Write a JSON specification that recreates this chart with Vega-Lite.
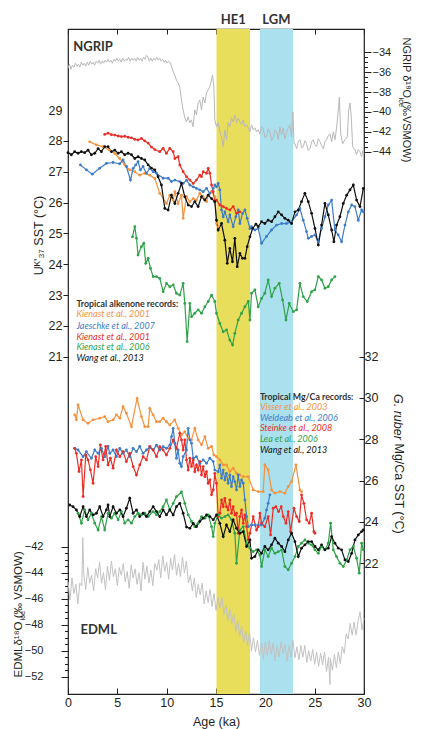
{
  "$schema": "https://vega.github.io/schema/vega-lite/v6.json",
  "width": 296,
  "height": 665,
  "autosize": {"type": "none"},
  "padding": {"left": 68, "top": 29, "right": 58, "bottom": 35},
  "background": "white",
  "config": {
    "view": {"stroke": "#231f20", "strokeWidth": 1.2},
    "axis": {"domain": false, "grid": false, "labelFont": "Liberation Sans", "titleFont": "Liberation Sans", "labelColor": "#231f20", "titleColor": "#231f20", "tickColor": "#231f20", "labelOverlap": false, "labelFlush": false, "titleFontWeight": "normal"}
  },
  "datasets": {
    "ngrip": [
      {"t":0,"v":-35.6},{"t":0.15,"v":-35.2},{"t":0.3,"v":-35.7},{"t":0.45,"v":-35.3},{"t":0.6,"v":-35.5},{"t":0.75,"v":-35.1},{"t":0.9,"v":-35.4},{"t":1.05,"v":-35.2},{"t":1.2,"v":-35.5},{"t":1.35,"v":-35.0},{"t":1.5,"v":-35.3},{"t":1.65,"v":-35.1},{"t":1.8,"v":-35.4},{"t":1.95,"v":-35.0},{"t":2.1,"v":-35.3},{"t":2.25,"v":-34.9},{"t":2.4,"v":-35.2},{"t":2.55,"v":-35.0},{"t":2.7,"v":-35.3},{"t":2.85,"v":-34.9},{"t":3.0,"v":-35.1},{"t":3.15,"v":-34.8},{"t":3.3,"v":-35.2},{"t":3.45,"v":-34.9},{"t":3.6,"v":-35.1},{"t":3.75,"v":-34.8},{"t":3.9,"v":-35.0},{"t":4.05,"v":-34.7},{"t":4.2,"v":-35.0},{"t":4.35,"v":-34.8},{"t":4.5,"v":-35.1},{"t":4.65,"v":-34.7},{"t":4.8,"v":-34.9},{"t":4.95,"v":-34.6},{"t":5.1,"v":-34.9},{"t":5.25,"v":-34.7},{"t":5.4,"v":-35.0},{"t":5.55,"v":-34.6},{"t":5.7,"v":-34.9},{"t":5.85,"v":-34.7},{"t":6.0,"v":-34.8},{"t":6.15,"v":-34.5},{"t":6.3,"v":-34.9},{"t":6.45,"v":-34.6},{"t":6.6,"v":-34.8},{"t":6.75,"v":-34.6},{"t":6.9,"v":-34.9},{"t":7.05,"v":-34.5},{"t":7.2,"v":-34.8},{"t":7.35,"v":-34.6},{"t":7.5,"v":-34.9},{"t":7.65,"v":-34.5},{"t":7.8,"v":-34.7},{"t":7.95,"v":-34.3},{"t":8.1,"v":-34.5},{"t":8.25,"v":-34.9},{"t":8.4,"v":-34.6},{"t":8.55,"v":-34.9},{"t":8.7,"v":-34.6},{"t":8.85,"v":-34.8},{"t":9.0,"v":-34.5},{"t":9.15,"v":-34.8},{"t":9.3,"v":-34.6},{"t":9.45,"v":-34.9},{"t":9.6,"v":-34.7},{"t":9.75,"v":-35.0},{"t":9.9,"v":-34.8},{"t":10.05,"v":-35.1},{"t":10.2,"v":-34.9},{"t":10.32,"v":-35.0},{"t":10.49,"v":-35.4},{"t":10.65,"v":-35.9},{"t":10.82,"v":-36.3},{"t":10.99,"v":-36.8},{"t":11.16,"v":-37.1},{"t":11.33,"v":-37.5},{"t":11.5,"v":-38.8},{"t":11.67,"v":-39.8},{"t":11.84,"v":-40.6},{"t":12.0,"v":-41.0},{"t":12.17,"v":-40.5},{"t":12.34,"v":-41.1},{"t":12.51,"v":-40.8},{"t":12.68,"v":-41.5},{"t":12.85,"v":-39.8},{"t":13.02,"v":-40.3},{"t":13.19,"v":-39.1},{"t":13.36,"v":-38.8},{"t":13.53,"v":-39.8},{"t":13.7,"v":-38.5},{"t":13.87,"v":-39.1},{"t":14.03,"v":-38.1},{"t":14.2,"v":-37.8},{"t":14.37,"v":-37.5},{"t":14.54,"v":-36.8},{"t":14.65,"v":-36.3},{"t":14.78,"v":-37.5},{"t":14.88,"v":-40.8},{"t":15.05,"v":-41.5},{"t":15.22,"v":-41.1},{"t":15.39,"v":-42.0},{"t":15.56,"v":-42.5},{"t":15.73,"v":-43.5},{"t":15.9,"v":-41.8},{"t":16.07,"v":-42.8},{"t":16.23,"v":-41.1},{"t":16.4,"v":-41.5},{"t":16.57,"v":-40.6},{"t":16.74,"v":-41.0},{"t":16.91,"v":-40.3},{"t":17.08,"v":-41.1},{"t":17.25,"v":-40.6},{"t":17.42,"v":-41.0},{"t":17.59,"v":-41.3},{"t":17.76,"v":-40.8},{"t":17.93,"v":-41.5},{"t":18.1,"v":-41.3},{"t":18.27,"v":-41.6},{"t":18.44,"v":-42.0},{"t":18.6,"v":-41.3},{"t":18.77,"v":-41.8},{"t":18.94,"v":-41.6},{"t":19.11,"v":-42.0},{"t":19.28,"v":-41.8},{"t":19.45,"v":-42.2},{"t":19.62,"v":-41.5},{"t":19.79,"v":-41.7},{"t":19.96,"v":-42.6},{"t":20.13,"v":-42.5},{"t":20.3,"v":-41.7},{"t":20.46,"v":-42.0},{"t":20.63,"v":-42.9},{"t":20.8,"v":-42.6},{"t":20.97,"v":-41.8},{"t":21.14,"v":-42.0},{"t":21.31,"v":-42.8},{"t":21.48,"v":-41.5},{"t":21.65,"v":-42.3},{"t":21.81,"v":-41.6},{"t":21.98,"v":-42.7},{"t":22.15,"v":-42.1},{"t":22.32,"v":-41.6},{"t":22.49,"v":-41.3},{"t":22.66,"v":-42.5},{"t":22.8,"v":-40.0},{"t":22.9,"v":-43.2},{"t":23.0,"v":-43.2},{"t":23.17,"v":-43.7},{"t":23.34,"v":-43.0},{"t":23.51,"v":-42.8},{"t":23.68,"v":-43.6},{"t":23.85,"v":-43.5},{"t":24.01,"v":-42.9},{"t":24.18,"v":-43.2},{"t":24.35,"v":-43.9},{"t":24.52,"v":-43.7},{"t":24.69,"v":-43.0},{"t":24.86,"v":-42.8},{"t":25.03,"v":-43.3},{"t":25.2,"v":-43.5},{"t":25.37,"v":-42.7},{"t":25.54,"v":-43.0},{"t":25.71,"v":-43.4},{"t":25.88,"v":-43.7},{"t":26.05,"v":-43.0},{"t":26.21,"v":-42.8},{"t":26.38,"v":-42.4},{"t":26.55,"v":-42.2},{"t":26.72,"v":-43.0},{"t":26.89,"v":-42.0},{"t":27.06,"v":-42.8},{"t":27.23,"v":-41.5},{"t":27.4,"v":-39.8},{"t":27.5,"v":-38.5},{"t":27.64,"v":-42.2},{"t":27.84,"v":-43.2},{"t":28.07,"v":-42.8},{"t":28.31,"v":-42.5},{"t":28.45,"v":-39.8},{"t":28.58,"v":-39.1},{"t":28.71,"v":-40.5},{"t":28.85,"v":-43.5},{"t":29.09,"v":-43.8},{"t":29.25,"v":-44.3},{"t":29.42,"v":-43.8},{"t":29.59,"v":-44.0},{"t":29.76,"v":-44.5},{"t":29.88,"v":-43.9},{"t":30.0,"v":-44.2}
    ],
    "edml": [
      {"t":0,"v":-44.7},{"t":0.2,"v":-46.1},{"t":0.4,"v":-44.4},{"t":0.6,"v":-45.6},{"t":0.8,"v":-44.9},{"t":1.0,"v":-46.4},{"t":1.2,"v":-44.8},{"t":1.4,"v":-45.0},{"t":1.5,"v":-41.3},{"t":1.6,"v":-44.1},{"t":1.8,"v":-45.3},{"t":2.0,"v":-43.6},{"t":2.2,"v":-44.8},{"t":2.4,"v":-44.2},{"t":2.6,"v":-45.4},{"t":2.8,"v":-43.7},{"t":3.0,"v":-44.4},{"t":3.2,"v":-43.2},{"t":3.4,"v":-44.8},{"t":3.6,"v":-44.0},{"t":3.8,"v":-45.3},{"t":4.0,"v":-43.5},{"t":4.2,"v":-44.6},{"t":4.4,"v":-43.1},{"t":4.6,"v":-44.3},{"t":4.8,"v":-43.7},{"t":5.0,"v":-45.0},{"t":5.2,"v":-43.6},{"t":5.4,"v":-44.2},{"t":5.6,"v":-43.3},{"t":5.8,"v":-44.7},{"t":6.0,"v":-43.9},{"t":6.2,"v":-45.2},{"t":6.4,"v":-43.4},{"t":6.6,"v":-44.4},{"t":6.8,"v":-43.7},{"t":7.0,"v":-44.9},{"t":7.2,"v":-44.0},{"t":7.4,"v":-45.4},{"t":7.6,"v":-43.2},{"t":7.8,"v":-44.5},{"t":8.0,"v":-43.5},{"t":8.2,"v":-44.8},{"t":8.4,"v":-43.8},{"t":8.6,"v":-45.0},{"t":8.8,"v":-43.3},{"t":9.0,"v":-43.8},{"t":9.2,"v":-43.0},{"t":9.4,"v":-44.4},{"t":9.6,"v":-42.7},{"t":9.8,"v":-43.9},{"t":10.0,"v":-43.2},{"t":10.2,"v":-44.5},{"t":10.4,"v":-42.9},{"t":10.6,"v":-43.8},{"t":10.8,"v":-42.6},{"t":11.0,"v":-44.2},{"t":11.2,"v":-43.3},{"t":11.4,"v":-44.3},{"t":11.6,"v":-42.8},{"t":11.8,"v":-44.0},{"t":12.0,"v":-43.1},{"t":12.2,"v":-44.8},{"t":12.4,"v":-44.2},{"t":12.6,"v":-45.4},{"t":12.8,"v":-44.4},{"t":13.0,"v":-45.9},{"t":13.2,"v":-44.9},{"t":13.4,"v":-45.7},{"t":13.6,"v":-44.8},{"t":13.8,"v":-46.4},{"t":14.0,"v":-45.4},{"t":14.2,"v":-46.3},{"t":14.4,"v":-45.3},{"t":14.6,"v":-46.6},{"t":14.8,"v":-45.6},{"t":15.0,"v":-46.9},{"t":15.2,"v":-45.9},{"t":15.4,"v":-46.7},{"t":15.6,"v":-45.9},{"t":15.8,"v":-47.2},{"t":16.0,"v":-46.5},{"t":16.2,"v":-47.7},{"t":16.4,"v":-46.8},{"t":16.6,"v":-47.9},{"t":16.8,"v":-47.2},{"t":17.0,"v":-48.5},{"t":17.2,"v":-47.7},{"t":17.4,"v":-48.9},{"t":17.6,"v":-48.1},{"t":17.8,"v":-49.4},{"t":18.0,"v":-48.5},{"t":18.2,"v":-49.6},{"t":18.4,"v":-48.6},{"t":18.6,"v":-50.0},{"t":18.8,"v":-49.0},{"t":19.0,"v":-50.1},{"t":19.2,"v":-49.2},{"t":19.4,"v":-50.35},{"t":19.6,"v":-49.4},{"t":19.8,"v":-50.65},{"t":20.0,"v":-49.3},{"t":20.2,"v":-50.4},{"t":20.4,"v":-49.2},{"t":20.6,"v":-50.3},{"t":20.8,"v":-49.4},{"t":21.0,"v":-50.8},{"t":21.2,"v":-49.6},{"t":21.4,"v":-50.5},{"t":21.6,"v":-49.3},{"t":21.8,"v":-50.2},{"t":22.0,"v":-49.5},{"t":22.2,"v":-50.8},{"t":22.4,"v":-49.6},{"t":22.6,"v":-50.5},{"t":22.8,"v":-49.2},{"t":23.0,"v":-50.55},{"t":23.2,"v":-49.7},{"t":23.4,"v":-50.7},{"t":23.6,"v":-49.6},{"t":23.8,"v":-50.5},{"t":24.0,"v":-49.6},{"t":24.2,"v":-50.9},{"t":24.4,"v":-50.0},{"t":24.6,"v":-50.8},{"t":24.8,"v":-49.9},{"t":25.0,"v":-51.05},{"t":25.2,"v":-50.1},{"t":25.4,"v":-51.2},{"t":25.6,"v":-50.2},{"t":25.8,"v":-51.1},{"t":26.0,"v":-50.1},{"t":26.2,"v":-51.6},{"t":26.4,"v":-50.5},{"t":26.55,"v":-52.6},{"t":26.6,"v":-50.6},{"t":26.8,"v":-51.5},{"t":27.0,"v":-50.3},{"t":27.2,"v":-51.3},{"t":27.4,"v":-50.1},{"t":27.6,"v":-51.0},{"t":27.8,"v":-49.7},{"t":28.0,"v":-50.2},{"t":28.2,"v":-48.7},{"t":28.4,"v":-49.1},{"t":28.6,"v":-47.9},{"t":28.8,"v":-48.8},{"t":29.0,"v":-47.8},{"t":29.2,"v":-48.8},{"t":29.4,"v":-47.7},{"t":29.6,"v":-47.0},{"t":29.8,"v":-48.4},{"t":30.0,"v":-47.5}
    ],
    "alk": [
      {"s":"aK1","t":2.2,"v":27.97},{"s":"aK1","t":2.88,"v":27.87},{"s":"aK1","t":3.55,"v":27.81},{"s":"aK1","t":4.23,"v":27.7},{"s":"aK1","t":4.74,"v":27.59},{"s":"aK1","t":5.24,"v":27.43},{"s":"aK1","t":5.75,"v":27.22},{"s":"aK1","t":6.26,"v":27.06},{"s":"aK1","t":6.77,"v":27.0},{"s":"aK1","t":7.27,"v":26.89},{"s":"aK1","t":7.78,"v":26.95},{"s":"aK1","t":8.29,"v":26.89},{"s":"aK1","t":8.8,"v":26.78},{"s":"aK1","t":9.3,"v":26.3},{"s":"aK1","t":9.98,"v":25.97},{"s":"aK1","t":10.32,"v":26.24},{"s":"aK1","t":10.66,"v":26.08},{"s":"aK1","t":10.83,"v":26.35},{"s":"aK1","t":11.16,"v":25.97},{"s":"aK1","t":11.5,"v":26.24},{"s":"aK1","t":11.67,"v":25.49},{"s":"aK1","t":12.01,"v":26.19},{"s":"aK1","t":12.35,"v":26.03},{"s":"aK1","t":12.69,"v":26.13},{"s":"aK1","t":13.02,"v":26.08},{"s":"aK1","t":13.36,"v":26.3},{"s":"aK1","t":13.7,"v":26.19},{"s":"aK1","t":14.04,"v":26.03},{"s":"aK1","t":14.21,"v":26.24},{"s":"aK1","t":14.55,"v":26.35},{"s":"aK1","t":14.88,"v":26.19},{"s":"aK1","t":15.05,"v":25.32},{"s":"aK1","t":15.22,"v":25.22},
      {"s":"aJ","t":1.26,"v":27.22},{"s":"aJ","t":1.87,"v":27.06},{"s":"aJ","t":2.47,"v":26.92},{"s":"aJ","t":3.2,"v":27.11},{"s":"aJ","t":3.89,"v":27.27},{"s":"aJ","t":4.57,"v":27.3},{"s":"aJ","t":5.24,"v":27.26},{"s":"aJ","t":5.58,"v":27.38},{"s":"aJ","t":5.92,"v":27.17},{"s":"aJ","t":6.33,"v":26.73},{"s":"aJ","t":6.6,"v":27.11},{"s":"aJ","t":6.87,"v":27.22},{"s":"aJ","t":7.1,"v":27.33},{"s":"aJ","t":7.34,"v":27.06},{"s":"aJ","t":7.61,"v":27.17},{"s":"aJ","t":7.95,"v":26.95},{"s":"aJ","t":8.29,"v":27.11},{"s":"aJ","t":8.63,"v":27.0},{"s":"aJ","t":8.97,"v":26.95},{"s":"aJ","t":9.64,"v":26.79},{"s":"aJ","t":10.15,"v":26.79},{"s":"aJ","t":10.49,"v":26.68},{"s":"aJ","t":10.83,"v":26.73},{"s":"aJ","t":11.33,"v":26.68},{"s":"aJ","t":11.67,"v":26.62},{"s":"aJ","t":12.01,"v":26.73},{"s":"aJ","t":12.35,"v":26.57},{"s":"aJ","t":12.69,"v":26.51},{"s":"aJ","t":13.02,"v":26.46},{"s":"aJ","t":13.36,"v":26.41},{"s":"aJ","t":13.7,"v":26.35},{"s":"aJ","t":14.04,"v":26.46},{"s":"aJ","t":14.38,"v":26.3},{"s":"aJ","t":14.72,"v":26.46},{"s":"aJ","t":14.88,"v":26.57},{"s":"aJ","t":15.05,"v":26.51},{"s":"aJ","t":15.22,"v":26.62},{"s":"aJ","t":15.39,"v":26.41},{"s":"aJ","t":15.56,"v":25.76},{"s":"aJ","t":15.73,"v":25.54},{"s":"aJ","t":15.9,"v":25.7},{"s":"aJ","t":16.23,"v":25.38},{"s":"aJ","t":16.4,"v":25.6},{"s":"aJ","t":16.74,"v":25.22},{"s":"aJ","t":17.01,"v":25.54},{"s":"aJ","t":17.25,"v":25.76},{"s":"aJ","t":17.42,"v":25.32},{"s":"aJ","t":17.69,"v":25.65},{"s":"aJ","t":17.93,"v":25.76},{"s":"aJ","t":18.16,"v":25.49},{"s":"aJ","t":18.44,"v":25.16},{"s":"aJ","t":18.6,"v":25.22},{"s":"aJ","t":18.94,"v":25.11},{"s":"aJ","t":19.28,"v":25.16},{"s":"aJ","t":19.62,"v":24.68},{"s":"aJ","t":20.12,"v":24.9},{"s":"aJ","t":20.63,"v":25.11},{"s":"aJ","t":21.14,"v":25.27},{"s":"aJ","t":21.65,"v":25.32},{"s":"aJ","t":22.15,"v":25.32},{"s":"aJ","t":22.66,"v":25.38},{"s":"aJ","t":23.17,"v":25.6},{"s":"aJ","t":23.5,"v":25.81},{"s":"aJ","t":23.84,"v":25.43},{"s":"aJ","t":24.18,"v":25.06},{"s":"aJ","t":24.35,"v":24.84},{"s":"aJ","t":24.69,"v":24.9},{"s":"aJ","t":25.03,"v":24.95},{"s":"aJ","t":25.37,"v":24.73},{"s":"aJ","t":25.7,"v":25.16},{"s":"aJ","t":26.04,"v":25.54},{"s":"aJ","t":26.38,"v":25.92},{"s":"aJ","t":26.72,"v":26.08},{"s":"aJ","t":27.05,"v":25.11},{"s":"aJ","t":27.39,"v":24.95},{"s":"aJ","t":27.73,"v":24.73},{"s":"aJ","t":28.07,"v":25.27},{"s":"aJ","t":28.41,"v":25.7},{"s":"aJ","t":28.75,"v":25.92},{"s":"aJ","t":29.08,"v":25.87},{"s":"aJ","t":29.42,"v":25.43},{"s":"aJ","t":29.76,"v":25.76},{"s":"aJ","t":29.93,"v":25.7},
      {"s":"aK2","t":3.72,"v":28.21},{"s":"aK2","t":4.06,"v":28.25},{"s":"aK2","t":4.4,"v":28.2},{"s":"aK2","t":4.74,"v":28.19},{"s":"aK2","t":5.08,"v":28.16},{"s":"aK2","t":5.41,"v":28.14},{"s":"aK2","t":5.75,"v":28.15},{"s":"aK2","t":6.09,"v":28.12},{"s":"aK2","t":6.43,"v":28.1},{"s":"aK2","t":6.77,"v":28.05},{"s":"aK2","t":7.1,"v":28.03},{"s":"aK2","t":7.44,"v":28.08},{"s":"aK2","t":7.78,"v":28.0},{"s":"aK2","t":8.12,"v":27.93},{"s":"aK2","t":8.46,"v":27.8},{"s":"aK2","t":8.8,"v":27.72},{"s":"aK2","t":9.3,"v":27.65},{"s":"aK2","t":9.64,"v":27.76},{"s":"aK2","t":9.98,"v":27.6},{"s":"aK2","t":10.32,"v":27.76},{"s":"aK2","t":10.66,"v":27.65},{"s":"aK2","t":10.83,"v":27.43},{"s":"aK2","t":11.16,"v":27.49},{"s":"aK2","t":11.33,"v":27.22},{"s":"aK2","t":11.67,"v":27.0},{"s":"aK2","t":12.01,"v":26.84},{"s":"aK2","t":12.35,"v":26.73},{"s":"aK2","t":12.69,"v":26.62},{"s":"aK2","t":13.02,"v":26.73},{"s":"aK2","t":13.36,"v":26.89},{"s":"aK2","t":13.53,"v":26.84},{"s":"aK2","t":13.7,"v":27.0},{"s":"aK2","t":14.04,"v":26.95},{"s":"aK2","t":14.21,"v":27.11},{"s":"aK2","t":14.38,"v":26.95},{"s":"aK2","t":14.55,"v":26.57},{"s":"aK2","t":14.72,"v":26.35},{"s":"aK2","t":14.88,"v":26.03},{"s":"aK2","t":15.05,"v":26.08},{"s":"aK2","t":15.39,"v":25.92},{"s":"aK2","t":15.73,"v":25.87},{"s":"aK2","t":16.06,"v":25.81},{"s":"aK2","t":16.4,"v":25.76},{"s":"aK2","t":16.74,"v":25.87},{"s":"aK2","t":17.08,"v":25.65},{"s":"aK2","t":17.42,"v":25.7},
      {"s":"aK3","t":6.53,"v":24.89},{"s":"aK3","t":6.77,"v":25.22},{"s":"aK3","t":6.94,"v":24.84},{"s":"aK3","t":7.1,"v":24.3},{"s":"aK3","t":7.44,"v":24.57},{"s":"aK3","t":7.68,"v":24.68},{"s":"aK3","t":7.88,"v":24.03},{"s":"aK3","t":8.12,"v":24.19},{"s":"aK3","t":8.36,"v":23.87},{"s":"aK3","t":8.63,"v":23.6},{"s":"aK3","t":8.97,"v":23.6},{"s":"aK3","t":9.3,"v":23.54},{"s":"aK3","t":9.64,"v":23.11},{"s":"aK3","t":9.98,"v":23.38},{"s":"aK3","t":10.32,"v":23.27},{"s":"aK3","t":10.66,"v":23.33},{"s":"aK3","t":10.99,"v":23.06},{"s":"aK3","t":11.33,"v":23.0},{"s":"aK3","t":11.67,"v":23.38},{"s":"aK3","t":11.84,"v":22.73},{"s":"aK3","t":12.08,"v":21.49},{"s":"aK3","t":12.35,"v":22.73},{"s":"aK3","t":12.52,"v":22.3},{"s":"aK3","t":12.85,"v":22.41},{"s":"aK3","t":13.19,"v":22.52},{"s":"aK3","t":13.53,"v":22.41},{"s":"aK3","t":13.87,"v":22.62},{"s":"aK3","t":14.21,"v":22.79},{"s":"aK3","t":14.55,"v":23.0},{"s":"aK3","t":14.88,"v":22.79},{"s":"aK3","t":15.05,"v":22.41},{"s":"aK3","t":15.39,"v":22.08},{"s":"aK3","t":15.73,"v":21.81},{"s":"aK3","t":16.07,"v":21.87},{"s":"aK3","t":16.4,"v":21.54},{"s":"aK3","t":16.68,"v":21.38},{"s":"aK3","t":16.91,"v":21.76},{"s":"aK3","t":17.25,"v":22.19},{"s":"aK3","t":17.59,"v":22.41},{"s":"aK3","t":17.93,"v":22.62},{"s":"aK3","t":18.27,"v":22.79},{"s":"aK3","t":18.44,"v":22.19},{"s":"aK3","t":18.6,"v":23.06},{"s":"aK3","t":18.94,"v":23.17},{"s":"aK3","t":19.28,"v":22.62},{"s":"aK3","t":19.62,"v":22.89},{"s":"aK3","t":19.95,"v":23.06},{"s":"aK3","t":20.29,"v":23.49},{"s":"aK3","t":20.63,"v":22.95},{"s":"aK3","t":20.97,"v":23.22},{"s":"aK3","t":21.41,"v":23.38},{"s":"aK3","t":21.75,"v":22.84},{"s":"aK3","t":22.09,"v":22.19},{"s":"aK3","t":22.42,"v":22.73},{"s":"aK3","t":22.83,"v":22.46},{"s":"aK3","t":23.17,"v":22.52},{"s":"aK3","t":23.5,"v":23.38},{"s":"aK3","t":23.84,"v":22.95},{"s":"aK3","t":24.25,"v":22.79},{"s":"aK3","t":24.69,"v":23.11},{"s":"aK3","t":25.03,"v":23.17},{"s":"aK3","t":25.37,"v":23.6},{"s":"aK3","t":25.7,"v":23.49},{"s":"aK3","t":26.04,"v":23.22},{"s":"aK3","t":26.38,"v":23.27},{"s":"aK3","t":26.72,"v":23.49},{"s":"aK3","t":27.05,"v":23.6},
      {"s":"aW","t":0,"v":27.62},{"s":"aW","t":0.34,"v":27.55},{"s":"aW","t":0.68,"v":27.65},{"s":"aW","t":1.02,"v":27.6},{"s":"aW","t":1.35,"v":27.65},{"s":"aW","t":1.69,"v":27.62},{"s":"aW","t":2.03,"v":27.7},{"s":"aW","t":2.37,"v":27.55},{"s":"aW","t":2.71,"v":27.6},{"s":"aW","t":3.05,"v":27.75},{"s":"aW","t":3.38,"v":27.65},{"s":"aW","t":3.72,"v":27.81},{"s":"aW","t":4.06,"v":27.81},{"s":"aW","t":4.4,"v":27.65},{"s":"aW","t":4.74,"v":27.7},{"s":"aW","t":5.08,"v":27.6},{"s":"aW","t":5.41,"v":27.65},{"s":"aW","t":5.75,"v":27.55},{"s":"aW","t":6.09,"v":27.6},{"s":"aW","t":6.43,"v":27.55},{"s":"aW","t":6.77,"v":27.43},{"s":"aW","t":7.1,"v":27.49},{"s":"aW","t":7.44,"v":27.43},{"s":"aW","t":7.78,"v":27.38},{"s":"aW","t":8.12,"v":27.22},{"s":"aW","t":8.45,"v":27.12},{"s":"aW","t":8.8,"v":27.06},{"s":"aW","t":9.13,"v":26.84},{"s":"aW","t":9.47,"v":26.57},{"s":"aW","t":9.81,"v":25.81},{"s":"aW","t":10.15,"v":25.76},{"s":"aW","t":10.49,"v":26.24},{"s":"aW","t":10.83,"v":25.97},{"s":"aW","t":11.16,"v":26.3},{"s":"aW","t":11.5,"v":26.62},{"s":"aW","t":11.84,"v":26.19},{"s":"aW","t":12.18,"v":25.92},{"s":"aW","t":12.52,"v":25.87},{"s":"aW","t":12.85,"v":26.03},{"s":"aW","t":13.19,"v":25.87},{"s":"aW","t":13.53,"v":26.19},{"s":"aW","t":13.87,"v":26.08},{"s":"aW","t":14.21,"v":26.24},{"s":"aW","t":14.55,"v":26.13},{"s":"aW","t":14.88,"v":26.03},{"s":"aW","t":15.05,"v":25.43},{"s":"aW","t":15.22,"v":25.11},{"s":"aW","t":15.56,"v":25.32},{"s":"aW","t":15.9,"v":24.78},{"s":"aW","t":16.14,"v":24.03},{"s":"aW","t":16.4,"v":24.51},{"s":"aW","t":16.67,"v":24.08},{"s":"aW","t":16.91,"v":24.84},{"s":"aW","t":17.15,"v":23.92},{"s":"aW","t":17.42,"v":24.35},{"s":"aW","t":17.69,"v":24.19},{"s":"aW","t":17.93,"v":24.19},{"s":"aW","t":18.16,"v":24.57},{"s":"aW","t":18.44,"v":24.89},{"s":"aW","t":18.71,"v":25.16},{"s":"aW","t":19.05,"v":25.3},{"s":"aW","t":19.28,"v":25.22},{"s":"aW","t":19.62,"v":25.38},{"s":"aW","t":19.95,"v":25.32},{"s":"aW","t":20.29,"v":25.43},{"s":"aW","t":20.63,"v":25.38},{"s":"aW","t":20.97,"v":25.54},{"s":"aW","t":21.31,"v":25.7},{"s":"aW","t":21.65,"v":25.6},{"s":"aW","t":21.98,"v":25.49},{"s":"aW","t":22.32,"v":25.43},{"s":"aW","t":22.66,"v":25.32},{"s":"aW","t":23.0,"v":25.7},{"s":"aW","t":23.34,"v":25.76},{"s":"aW","t":23.67,"v":26.03},{"s":"aW","t":24.01,"v":26.3},{"s":"aW","t":24.35,"v":26.03},{"s":"aW","t":24.69,"v":25.65},{"s":"aW","t":25.03,"v":25.16},{"s":"aW","t":25.37,"v":24.62},{"s":"aW","t":25.7,"v":25.27},{"s":"aW","t":26.04,"v":25.97},{"s":"aW","t":26.38,"v":25.6},{"s":"aW","t":26.72,"v":25.11},{"s":"aW","t":26.95,"v":24.73},{"s":"aW","t":27.22,"v":25.27},{"s":"aW","t":27.56,"v":25.54},{"s":"aW","t":27.9,"v":25.97},{"s":"aW","t":28.24,"v":26.24},{"s":"aW","t":28.58,"v":26.41},{"s":"aW","t":28.92,"v":26.57},{"s":"aW","t":29.25,"v":26.08},{"s":"aW","t":29.59,"v":25.87},{"s":"aW","t":29.93,"v":26.46}
    ],
    "mg": [
      {"s":"mV","t":0.68,"v":29.18},{"s":"mV","t":0.85,"v":28.94},{"s":"mV","t":1.02,"v":29.66},{"s":"mV","t":1.53,"v":28.94},{"s":"mV","t":2.03,"v":28.77},{"s":"mV","t":2.54,"v":28.94},{"s":"mV","t":3.22,"v":29.02},{"s":"mV","t":3.72,"v":29.1},{"s":"mV","t":4.06,"v":28.85},{"s":"mV","t":4.57,"v":28.94},{"s":"mV","t":4.91,"v":29.18},{"s":"mV","t":5.25,"v":29.02},{"s":"mV","t":5.58,"v":29.58},{"s":"mV","t":5.92,"v":29.26},{"s":"mV","t":6.43,"v":28.61},{"s":"mV","t":7.0,"v":29.98},{"s":"mV","t":7.44,"v":29.1},{"s":"mV","t":7.78,"v":28.61},{"s":"mV","t":8.12,"v":28.61},{"s":"mV","t":8.29,"v":29.5},{"s":"mV","t":8.63,"v":29.18},{"s":"mV","t":8.97,"v":28.85},{"s":"mV","t":9.3,"v":28.85},{"s":"mV","t":9.64,"v":29.02},{"s":"mV","t":9.98,"v":28.85},{"s":"mV","t":10.32,"v":28.69},{"s":"mV","t":10.82,"v":28.94},{"s":"mV","t":11.16,"v":28.53},{"s":"mV","t":11.5,"v":28.21},{"s":"mV","t":11.84,"v":28.37},{"s":"mV","t":12.18,"v":28.05},{"s":"mV","t":12.51,"v":27.97},{"s":"mV","t":12.85,"v":28.53},{"s":"mV","t":13.19,"v":27.97},{"s":"mV","t":13.53,"v":27.73},{"s":"mV","t":13.87,"v":28.13},{"s":"mV","t":14.21,"v":27.56},{"s":"mV","t":14.55,"v":27.65},{"s":"mV","t":14.78,"v":27.24},{"s":"mV","t":15.05,"v":27.16},{"s":"mV","t":15.39,"v":27.0},{"s":"mV","t":15.73,"v":26.76},{"s":"mV","t":16.07,"v":26.76},{"s":"mV","t":16.4,"v":26.44},{"s":"mV","t":16.74,"v":26.6},{"s":"mV","t":17.08,"v":26.36},{"s":"mV","t":17.42,"v":26.27},{"s":"mV","t":17.76,"v":26.19},{"s":"mV","t":18.27,"v":26.19},{"s":"mV","t":18.77,"v":25.55},{"s":"mV","t":19.28,"v":25.47},{"s":"mV","t":19.78,"v":25.47},{"s":"mV","t":19.95,"v":26.76},{"s":"mV","t":20.29,"v":26.52},{"s":"mV","t":20.63,"v":25.55},{"s":"mV","t":20.97,"v":25.39},{"s":"mV","t":21.48,"v":25.47},{"s":"mV","t":21.98,"v":25.39},{"s":"mV","t":22.32,"v":25.71},{"s":"mV","t":22.66,"v":25.95},{"s":"mV","t":23.1,"v":26.76},{"s":"mV","t":23.5,"v":25.55},{"s":"mV","t":23.67,"v":25.47},
      {"s":"mWe","t":0.68,"v":27.56},{"s":"mWe","t":1.02,"v":27.48},{"s":"mWe","t":1.53,"v":27.16},{"s":"mWe","t":1.86,"v":27.4},{"s":"mWe","t":2.37,"v":27.08},{"s":"mWe","t":2.71,"v":27.48},{"s":"mWe","t":3.05,"v":27.32},{"s":"mWe","t":3.39,"v":27.56},{"s":"mWe","t":3.72,"v":27.16},{"s":"mWe","t":4.06,"v":27.65},{"s":"mWe","t":4.23,"v":27.32},{"s":"mWe","t":4.57,"v":27.48},{"s":"mWe","t":4.91,"v":27.16},{"s":"mWe","t":5.25,"v":27.56},{"s":"mWe","t":5.58,"v":27.32},{"s":"mWe","t":5.92,"v":27.48},{"s":"mWe","t":6.26,"v":27.16},{"s":"mWe","t":6.6,"v":27.56},{"s":"mWe","t":6.94,"v":27.4},{"s":"mWe","t":7.27,"v":27.65},{"s":"mWe","t":7.61,"v":27.32},{"s":"mWe","t":7.95,"v":27.48},{"s":"mWe","t":8.29,"v":27.6},{"s":"mWe","t":8.63,"v":27.48},{"s":"mWe","t":8.97,"v":27.72},{"s":"mWe","t":9.3,"v":27.48},{"s":"mWe","t":9.64,"v":27.64},{"s":"mWe","t":9.98,"v":27.56},{"s":"mWe","t":10.32,"v":27.72},{"s":"mWe","t":10.49,"v":28.13},{"s":"mWe","t":10.66,"v":28.53},{"s":"mWe","t":10.83,"v":27.81},{"s":"mWe","t":10.99,"v":27.08},{"s":"mWe","t":11.16,"v":27.48},{"s":"mWe","t":11.33,"v":26.84},{"s":"mWe","t":11.5,"v":26.68},{"s":"mWe","t":11.67,"v":27.16},{"s":"mWe","t":12.01,"v":27.48},{"s":"mWe","t":12.18,"v":28.53},{"s":"mWe","t":12.35,"v":27.97},{"s":"mWe","t":12.52,"v":27.81},{"s":"mWe","t":12.69,"v":27.08},{"s":"mWe","t":13.02,"v":27.16},{"s":"mWe","t":13.36,"v":26.84},{"s":"mWe","t":13.7,"v":27.0},{"s":"mWe","t":14.04,"v":26.84},{"s":"mWe","t":14.38,"v":27.08},{"s":"mWe","t":14.72,"v":26.92},{"s":"mWe","t":14.88,"v":26.51},{"s":"mWe","t":15.22,"v":26.43},{"s":"mWe","t":15.39,"v":26.76},{"s":"mWe","t":15.56,"v":26.11},{"s":"mWe","t":15.73,"v":26.51},{"s":"mWe","t":15.9,"v":26.03},{"s":"mWe","t":16.06,"v":26.35},{"s":"mWe","t":16.23,"v":25.87},{"s":"mWe","t":16.4,"v":26.27},{"s":"mWe","t":16.57,"v":25.71},{"s":"mWe","t":16.74,"v":26.19},{"s":"mWe","t":16.91,"v":25.95},{"s":"mWe","t":17.08,"v":25.55},{"s":"mWe","t":17.25,"v":26.27},{"s":"mWe","t":17.42,"v":25.71},{"s":"mWe","t":17.59,"v":26.03},{"s":"mWe","t":17.76,"v":25.87},{"s":"mWe","t":17.93,"v":25.06},{"s":"mWe","t":18.1,"v":24.26},{"s":"mWe","t":18.27,"v":23.77},{"s":"mWe","t":18.6,"v":23.85},{"s":"mWe","t":18.94,"v":23.85},{"s":"mWe","t":19.28,"v":23.85},{"s":"mWe","t":19.61,"v":23.85},{"s":"mWe","t":19.95,"v":24.18},{"s":"mWe","t":20.12,"v":24.58},{"s":"mWe","t":20.29,"v":24.9},{"s":"mWe","t":20.46,"v":25.31},
      {"s":"mS","t":0.68,"v":27.56},{"s":"mS","t":0.85,"v":27.32},{"s":"mS","t":1.12,"v":26.44},{"s":"mS","t":1.36,"v":27.0},{"s":"mS","t":1.53,"v":25.23},{"s":"mS","t":1.8,"v":27.24},{"s":"mS","t":2.03,"v":27.0},{"s":"mS","t":2.27,"v":26.52},{"s":"mS","t":2.54,"v":25.87},{"s":"mS","t":2.81,"v":27.16},{"s":"mS","t":3.05,"v":26.68},{"s":"mS","t":3.28,"v":27.73},{"s":"mS","t":3.55,"v":27.0},{"s":"mS","t":3.82,"v":27.65},{"s":"mS","t":4.06,"v":26.76},{"s":"mS","t":4.3,"v":27.08},{"s":"mS","t":4.57,"v":26.6},{"s":"mS","t":4.91,"v":27.48},{"s":"mS","t":5.25,"v":27.16},{"s":"mS","t":5.58,"v":27.4},{"s":"mS","t":5.92,"v":26.92},{"s":"mS","t":6.26,"v":27.32},{"s":"mS","t":6.6,"v":26.68},{"s":"mS","t":6.94,"v":26.27},{"s":"mS","t":7.27,"v":26.76},{"s":"mS","t":7.61,"v":27.16},{"s":"mS","t":7.95,"v":27.0},{"s":"mS","t":8.29,"v":27.65},{"s":"mS","t":8.63,"v":27.48},{"s":"mS","t":8.97,"v":27.16},{"s":"mS","t":9.3,"v":27.64},{"s":"mS","t":9.64,"v":27.48},{"s":"mS","t":9.98,"v":27.24},{"s":"mS","t":10.32,"v":27.56},{"s":"mS","t":10.66,"v":27.97},{"s":"mS","t":10.99,"v":27.56},{"s":"mS","t":11.33,"v":28.29},{"s":"mS","t":11.5,"v":27.97},{"s":"mS","t":11.67,"v":27.48},{"s":"mS","t":11.84,"v":27.97},{"s":"mS","t":12.01,"v":27.0},{"s":"mS","t":12.18,"v":26.51},{"s":"mS","t":12.35,"v":27.08},{"s":"mS","t":12.52,"v":26.68},{"s":"mS","t":12.69,"v":27.0},{"s":"mS","t":12.85,"v":26.43},{"s":"mS","t":13.02,"v":26.76},{"s":"mS","t":13.19,"v":26.51},{"s":"mS","t":13.36,"v":26.92},{"s":"mS","t":13.53,"v":26.27},{"s":"mS","t":13.7,"v":26.68},{"s":"mS","t":13.87,"v":26.19},{"s":"mS","t":14.04,"v":26.43},{"s":"mS","t":14.21,"v":25.87},{"s":"mS","t":14.38,"v":26.03},{"s":"mS","t":14.55,"v":25.31},{"s":"mS","t":14.72,"v":25.55},{"s":"mS","t":14.88,"v":26.35},{"s":"mS","t":15.05,"v":25.87},{"s":"mS","t":15.22,"v":24.26},{"s":"mS","t":15.39,"v":24.42},{"s":"mS","t":15.56,"v":25.06},{"s":"mS","t":15.73,"v":24.74},{"s":"mS","t":15.9,"v":25.14},{"s":"mS","t":16.06,"v":24.74},{"s":"mS","t":16.23,"v":24.58},{"s":"mS","t":16.4,"v":25.06},{"s":"mS","t":16.57,"v":24.42},{"s":"mS","t":16.74,"v":24.74},{"s":"mS","t":16.91,"v":24.34},{"s":"mS","t":17.08,"v":24.42},{"s":"mS","t":17.25,"v":23.45},{"s":"mS","t":17.42,"v":24.26},{"s":"mS","t":17.59,"v":24.58},{"s":"mS","t":17.76,"v":23.93},{"s":"mS","t":17.93,"v":24.34},{"s":"mS","t":18.1,"v":23.77},{"s":"mS","t":18.27,"v":23.13},{"s":"mS","t":18.44,"v":23.45},{"s":"mS","t":18.77,"v":24.26},{"s":"mS","t":19.11,"v":23.61},{"s":"mS","t":19.28,"v":23.77},{"s":"mS","t":19.45,"v":24.42},{"s":"mS","t":19.62,"v":23.94},{"s":"mS","t":19.95,"v":23.77},{"s":"mS","t":20.29,"v":24.26},{"s":"mS","t":20.53,"v":23.37},{"s":"mS","t":20.8,"v":24.66},{"s":"mS","t":21.07,"v":24.74},{"s":"mS","t":21.34,"v":24.5},{"s":"mS","t":21.61,"v":24.74},{"s":"mS","t":21.82,"v":24.26},{"s":"mS","t":22.09,"v":23.94},{"s":"mS","t":22.32,"v":24.5},{"s":"mS","t":22.56,"v":23.53},{"s":"mS","t":22.9,"v":24.66},{"s":"mS","t":23.17,"v":24.26},{"s":"mS","t":23.44,"v":24.02},{"s":"mS","t":23.67,"v":25.31},{"s":"mS","t":23.91,"v":24.9},{"s":"mS","t":24.18,"v":24.1},{"s":"mS","t":24.45,"v":23.94},{"s":"mS","t":24.69,"v":24.42},{"s":"mS","t":24.92,"v":23.53},{"s":"mS","t":25.03,"v":23.45},
      {"s":"mL","t":1.02,"v":24.42},{"s":"mL","t":1.36,"v":23.94},{"s":"mL","t":1.69,"v":24.58},{"s":"mL","t":2.03,"v":24.1},{"s":"mL","t":2.37,"v":24.42},{"s":"mL","t":2.71,"v":23.94},{"s":"mL","t":3.05,"v":23.61},{"s":"mL","t":3.39,"v":24.26},{"s":"mL","t":3.72,"v":23.61},{"s":"mL","t":4.06,"v":24.42},{"s":"mL","t":4.4,"v":24.18},{"s":"mL","t":4.74,"v":24.42},{"s":"mL","t":5.08,"v":24.1},{"s":"mL","t":5.41,"v":24.5},{"s":"mL","t":5.75,"v":23.94},{"s":"mL","t":6.09,"v":24.1},{"s":"mL","t":6.43,"v":23.94},{"s":"mL","t":6.77,"v":24.26},{"s":"mL","t":7.1,"v":24.42},{"s":"mL","t":7.44,"v":24.34},{"s":"mL","t":7.78,"v":24.42},{"s":"mL","t":8.12,"v":24.26},{"s":"mL","t":8.63,"v":24.5},{"s":"mL","t":8.97,"v":24.34},{"s":"mL","t":9.3,"v":24.5},{"s":"mL","t":9.64,"v":24.74},{"s":"mL","t":9.98,"v":25.06},{"s":"mL","t":10.32,"v":24.58},{"s":"mL","t":10.66,"v":24.9},{"s":"mL","t":10.99,"v":25.22},{"s":"mL","t":11.5,"v":25.45},{"s":"mL","t":11.84,"v":24.9},{"s":"mL","t":12.18,"v":24.34},{"s":"mL","t":12.52,"v":24.02},{"s":"mL","t":12.85,"v":23.77},{"s":"mL","t":13.19,"v":23.93},{"s":"mL","t":13.53,"v":24.26},{"s":"mL","t":13.87,"v":24.18},{"s":"mL","t":14.21,"v":24.34},{"s":"mL","t":14.55,"v":23.77},{"s":"mL","t":14.72,"v":23.29},{"s":"mL","t":14.88,"v":23.93},{"s":"mL","t":15.22,"v":24.34},{"s":"mL","t":15.56,"v":24.18},{"s":"mL","t":15.9,"v":24.26},{"s":"mL","t":16.23,"v":24.34},{"s":"mL","t":16.57,"v":24.1},{"s":"mL","t":16.91,"v":23.45},{"s":"mL","t":17.08,"v":22.0},{"s":"mL","t":17.42,"v":23.61},{"s":"mL","t":17.76,"v":23.77},{"s":"mL","t":18.1,"v":22.97},{"s":"mL","t":18.44,"v":22.73},{"s":"mL","t":18.77,"v":22.56},{"s":"mL","t":19.11,"v":22.65},{"s":"mL","t":19.45,"v":22.4},{"s":"mL","t":19.62,"v":21.84},{"s":"mL","t":19.95,"v":22.65},{"s":"mL","t":20.29,"v":22.32},{"s":"mL","t":20.63,"v":22.73},{"s":"mL","t":20.97,"v":22.48},{"s":"mL","t":21.31,"v":22.56},{"s":"mL","t":21.65,"v":22.65},{"s":"mL","t":21.98,"v":21.84},{"s":"mL","t":22.32,"v":21.68},{"s":"mL","t":22.66,"v":22.0},{"s":"mL","t":23.0,"v":22.32},{"s":"mL","t":23.34,"v":22.81},{"s":"mL","t":23.67,"v":22.97},{"s":"mL","t":24.01,"v":23.13},{"s":"mL","t":24.35,"v":22.97},{"s":"mL","t":24.69,"v":22.89},{"s":"mL","t":25.03,"v":22.65},{"s":"mL","t":25.37,"v":22.48},{"s":"mL","t":25.7,"v":22.81},{"s":"mL","t":26.04,"v":22.65},{"s":"mL","t":26.38,"v":22.97},{"s":"mL","t":26.62,"v":23.94},{"s":"mL","t":26.89,"v":22.65},{"s":"mL","t":27.22,"v":22.32},{"s":"mL","t":27.56,"v":22.0},{"s":"mL","t":27.9,"v":21.84},{"s":"mL","t":28.24,"v":22.16},{"s":"mL","t":28.58,"v":22.65},{"s":"mL","t":28.92,"v":22.81},{"s":"mL","t":29.25,"v":22.24},{"s":"mL","t":29.52,"v":21.52},{"s":"mL","t":29.76,"v":22.97},{"s":"mL","t":29.93,"v":22.65},
      {"s":"mW","t":0.17,"v":24.82},{"s":"mW","t":0.51,"v":24.74},{"s":"mW","t":0.85,"v":24.58},{"s":"mW","t":1.19,"v":24.26},{"s":"mW","t":1.53,"v":24.74},{"s":"mW","t":1.86,"v":24.26},{"s":"mW","t":2.2,"v":24.58},{"s":"mW","t":2.54,"v":24.34},{"s":"mW","t":2.88,"v":24.42},{"s":"mW","t":3.22,"v":24.74},{"s":"mW","t":3.55,"v":24.26},{"s":"mW","t":3.89,"v":24.58},{"s":"mW","t":4.06,"v":24.82},{"s":"mW","t":4.23,"v":24.26},{"s":"mW","t":4.57,"v":24.74},{"s":"mW","t":4.91,"v":24.42},{"s":"mW","t":5.25,"v":24.58},{"s":"mW","t":5.58,"v":24.26},{"s":"mW","t":5.92,"v":24.66},{"s":"mW","t":6.26,"v":25.15},{"s":"mW","t":6.6,"v":24.42},{"s":"mW","t":6.94,"v":24.58},{"s":"mW","t":7.27,"v":24.26},{"s":"mW","t":7.61,"v":24.42},{"s":"mW","t":7.95,"v":24.26},{"s":"mW","t":8.29,"v":24.5},{"s":"mW","t":8.63,"v":24.74},{"s":"mW","t":8.97,"v":24.5},{"s":"mW","t":9.3,"v":24.26},{"s":"mW","t":9.64,"v":24.58},{"s":"mW","t":9.98,"v":24.34},{"s":"mW","t":10.32,"v":24.58},{"s":"mW","t":10.66,"v":24.34},{"s":"mW","t":10.99,"v":24.74},{"s":"mW","t":11.33,"v":24.9},{"s":"mW","t":11.67,"v":24.42},{"s":"mW","t":12.01,"v":23.75},{"s":"mW","t":12.35,"v":23.69},{"s":"mW","t":12.69,"v":23.93},{"s":"mW","t":13.02,"v":23.77},{"s":"mW","t":13.36,"v":24.02},{"s":"mW","t":13.7,"v":24.18},{"s":"mW","t":14.04,"v":24.34},{"s":"mW","t":14.38,"v":24.26},{"s":"mW","t":14.72,"v":24.1},{"s":"mW","t":15.05,"v":24.34},{"s":"mW","t":15.39,"v":23.93},{"s":"mW","t":15.73,"v":23.29},{"s":"mW","t":16.06,"v":23.85},{"s":"mW","t":16.4,"v":23.53},{"s":"mW","t":16.74,"v":24.1},{"s":"mW","t":17.08,"v":23.69},{"s":"mW","t":17.42,"v":23.45},{"s":"mW","t":17.76,"v":23.53},{"s":"mW","t":18.1,"v":22.81},{"s":"mW","t":18.44,"v":23.13},{"s":"mW","t":18.6,"v":22.24},{"s":"mW","t":18.94,"v":22.32},{"s":"mW","t":19.28,"v":22.65},{"s":"mW","t":19.61,"v":22.48},{"s":"mW","t":19.95,"v":22.81},{"s":"mW","t":20.29,"v":22.65},{"s":"mW","t":20.63,"v":22.89},{"s":"mW","t":20.97,"v":23.21},{"s":"mW","t":21.31,"v":22.97},{"s":"mW","t":21.65,"v":22.81},{"s":"mW","t":21.98,"v":22.56},{"s":"mW","t":22.32,"v":23.13},{"s":"mW","t":22.66,"v":23.45},{"s":"mW","t":23.0,"v":23.05},{"s":"mW","t":23.34,"v":22.32},{"s":"mW","t":23.67,"v":22.73},{"s":"mW","t":24.01,"v":22.89},{"s":"mW","t":24.35,"v":23.05},{"s":"mW","t":24.69,"v":23.05},{"s":"mW","t":25.03,"v":22.81},{"s":"mW","t":25.37,"v":22.65},{"s":"mW","t":25.7,"v":22.89},{"s":"mW","t":26.04,"v":22.65},{"s":"mW","t":26.38,"v":22.73},{"s":"mW","t":26.72,"v":23.29},{"s":"mW","t":27.05,"v":22.97},{"s":"mW","t":27.39,"v":22.73},{"s":"mW","t":27.73,"v":22.65},{"s":"mW","t":28.07,"v":22.16},{"s":"mW","t":28.41,"v":22.08},{"s":"mW","t":28.75,"v":22.48},{"s":"mW","t":29.08,"v":23.13},{"s":"mW","t":29.42,"v":23.37},{"s":"mW","t":29.76,"v":23.53},{"s":"mW","t":29.93,"v":23.61}
    ]
  },
  "layer": [
    {
      "data": {"values": [{"ev": "HE1", "a": 15.05, "b": 18.45}, {"ev": "LGM", "a": 19.45, "b": 22.8}]},
      "mark": {"type": "rect"},
      "encoding": {
        "x": {"field": "a", "type": "quantitative", "scale": {"domain": [0, 30], "nice": false},
          "axis": {"orient": "bottom", "values": [0, 5, 10, 15, 20, 25, 30], "tickSize": -6, "labelPadding": 8, "labelFontSize": 12.5, "title": "Age (ka)", "titleFontSize": 12.5, "titleX": 148, "titleY": 31, "titleAlign": "center", "titleBaseline": "alphabetic"}},
        "x2": {"field": "b"},
        "fill": {"field": "ev", "type": "nominal", "scale": {"domain": ["HE1", "LGM"], "range": ["#E9DD5C", "#ABE0EE"]}, "legend": null}
      }
    },
    {
      "data": {"name": "ngrip"},
      "mark": {"type": "line", "color": "#b8b8b8", "strokeWidth": 1},
      "encoding": {
        "x": {"field": "t", "type": "quantitative", "scale": {"domain": [0, 30], "nice": false},
          "axis": {"orient": "top", "values": [0, 5, 10, 15, 20, 25, 30], "tickSize": -5, "labels": false, "title": null}},
        "y": {"field": "v", "type": "quantitative", "scale": {"domain": [-98.56, -31.66], "nice": false, "zero": false},
          "axis": {"orient": "right", "values": [-34, -34.5, -35, -35.5, -36, -36.5, -37, -37.5, -38, -38.5, -39, -39.5, -40, -40.5, -41, -41.5, -42, -42.5, -43, -43.5, -44],
            "tickSize": {"condition": {"test": "datum.value % 2 == 0", "value": 7}, "value": 3.5},
            "labelExpr": "datum.value % 2 == 0 ? datum.label : ''", "labelPadding": 1, "labelFontSize": 11,
            "title": "NGRIP δ¹⁸O   (‰VSMOW)", "titleFontSize": 11, "titleAngle": 90, "titleX": 41, "titleY": 8, "titleAlign": "left", "titleBaseline": "middle"}}
      }
    },
    {
      "data": {"name": "edml"},
      "mark": {"type": "line", "color": "#c2c2c2", "strokeWidth": 1},
      "encoding": {
        "x": {"field": "t", "type": "quantitative", "scale": {"domain": [0, 30], "nice": false}, "axis": null},
        "y": {"field": "v", "type": "quantitative", "scale": {"domain": [-53.33, -2.18], "nice": false, "zero": false},
          "axis": {"orient": "left", "values": [-42, -42.5, -43, -43.5, -44, -44.5, -45, -45.5, -46, -46.5, -47, -47.5, -48, -48.5, -49, -49.5, -50, -50.5, -51, -51.5, -52],
            "tickSize": {"condition": {"test": "datum.value % 2 == 0", "value": 7}, "value": 3.5},
            "labelExpr": "datum.value % 2 == 0 ? datum.label : ''", "labelPadding": 18, "labelFontSize": 11,
            "title": "EDMLδ¹⁸O   (‰ VSMOW)", "titleFontSize": 11.5, "titleAngle": 270, "titleX": -50, "titleY": 648, "titleAlign": "left", "titleBaseline": "middle"}}
      }
    },
    {
      "data": {"name": "alk"},
      "mark": {"type": "line", "strokeWidth": 1.2, "point": {"filled": true, "size": 8}},
      "encoding": {
        "x": {"field": "t", "type": "quantitative", "scale": {"domain": [0, 30], "nice": false}, "axis": null},
        "y": {"field": "v", "type": "quantitative", "scale": {"domain": [10.06, 31.63], "nice": false, "zero": false},
          "axis": {"orient": "left", "values": [21, 22, 23, 24, 25, 26, 27, 28, 29], "tickSize": 5, "labelPadding": 1, "labelFontSize": 12.5,
            "tickOpacity": {"condition": {"test": "datum.value == 29", "value": 0}, "value": 1},
            "title": "Uᴷ'₃₇ SST (°C)", "titleFontSize": 12.5, "titleAngle": 270, "titleX": -30, "titleY": 206, "titleAlign": "center", "titleBaseline": "middle"}},
        "color": {"field": "s", "type": "nominal",
          "scale": {"domain": ["aK1", "aJ", "aK2", "aK3", "aW", "mV", "mWe", "mS", "mL", "mW"], "range": ["#F5923E", "#3D7CC9", "#EA2E27", "#2FA24A", "#111111", "#F5923E", "#3D7CC9", "#EA2E27", "#2FA24A", "#111111"]},
          "legend": null}
      }
    },
    {
      "data": {"name": "mg"},
      "mark": {"type": "line", "strokeWidth": 1.2, "point": {"filled": true, "size": 8}},
      "encoding": {
        "x": {"field": "t", "type": "quantitative", "scale": {"domain": [0, 30], "nice": false}, "axis": null},
        "y": {"field": "v", "type": "quantitative", "scale": {"domain": [15.67, 47.86], "nice": false, "zero": false},
          "axis": {"orient": "right", "values": [22, 24, 26, 28, 30, 32], "tickSize": -5, "labelPadding": 5, "labelFontSize": 12.5,
            "title": "Mg/Ca SST (°C)", "titleFontSize": 12.5, "titleAngle": 90, "titleX": 34, "titleY": 414, "titleAlign": "left", "titleBaseline": "middle"}},
        "color": {"field": "s", "type": "nominal",
          "scale": {"domain": ["aK1", "aJ", "aK2", "aK3", "aW", "mV", "mWe", "mS", "mL", "mW"], "range": ["#F5923E", "#3D7CC9", "#EA2E27", "#2FA24A", "#111111", "#F5923E", "#3D7CC9", "#EA2E27", "#2FA24A", "#111111"]},
          "legend": null}
      }
    },
    {
      "data": {"values": [{"lab": "NGRIP", "t": 2.54, "v": -33.44}, {"lab": "HE1", "t": 16.75, "v": -30.75}, {"lab": "LGM", "t": 21.12, "v": -30.75}]},
      "mark": {"type": "text", "font": "Lato", "fontWeight": "bold", "fontSize": 13, "color": "#333333", "align": "center", "baseline": "middle"},
      "encoding": {
        "x": {"field": "t", "type": "quantitative", "scale": {"domain": [0, 30], "nice": false}, "axis": null},
        "y": {"field": "v", "type": "quantitative", "scale": {"domain": [-98.56, -31.66], "nice": false, "zero": false}, "axis": null},
        "text": {"field": "lab"}
      }
    },
    {
      "data": {"values": [{"lab": "EDML", "t": 3.11, "v": -48.41}]},
      "mark": {"type": "text", "font": "Lato", "fontWeight": "bold", "fontSize": 13, "color": "#333333", "align": "center", "baseline": "middle"},
      "encoding": {
        "x": {"field": "t", "type": "quantitative", "scale": {"domain": [0, 30], "nice": false}, "axis": null},
        "y": {"field": "v", "type": "quantitative", "scale": {"domain": [-53.33, -2.18], "nice": false, "zero": false}, "axis": null},
        "text": {"field": "lab"}
      }
    },
    {
      "data": {"values": [{"lab": "Tropical alkenone records:", "t": 0.85, "v": 22.71}]},
      "mark": {"type": "text", "font": "Lato", "fontWeight": "bold", "fontSize": 8.8, "color": "#333333", "align": "left", "baseline": "middle"},
      "encoding": {
        "x": {"field": "t", "type": "quantitative", "scale": {"domain": [0, 30], "nice": false}, "axis": null},
        "y": {"field": "v", "type": "quantitative", "scale": {"domain": [10.06, 31.63], "nice": false, "zero": false}, "axis": null},
        "text": {"field": "lab"}
      }
    },
    {
      "data": {"values": [
        {"s": "aK1", "lab": "Kienast et al., 2001", "t": 0.85, "v": 22.375},
        {"s": "aJ", "lab": "Jaeschke et al., 2007", "t": 0.85, "v": 22.0},
        {"s": "aK2", "lab": "Kienast et al., 2001", "t": 0.85, "v": 21.65},
        {"s": "aK3", "lab": "Kienast et al., 2006", "t": 0.85, "v": 21.3},
        {"s": "aW", "lab": "Wang et al., 2013", "t": 0.85, "v": 20.95}
      ]},
      "mark": {"type": "text", "font": "Lato", "fontStyle": "italic", "fontSize": 9, "align": "left", "baseline": "middle"},
      "encoding": {
        "x": {"field": "t", "type": "quantitative", "scale": {"domain": [0, 30], "nice": false}, "axis": null},
        "y": {"field": "v", "type": "quantitative", "scale": {"domain": [10.06, 31.63], "nice": false, "zero": false}, "axis": null},
        "text": {"field": "lab"},
        "color": {"field": "s", "type": "nominal",
          "scale": {"domain": ["aK1", "aJ", "aK2", "aK3", "aW", "mV", "mWe", "mS", "mL", "mW"], "range": ["#F5923E", "#3D7CC9", "#EA2E27", "#2FA24A", "#111111", "#F5923E", "#3D7CC9", "#EA2E27", "#2FA24A", "#111111"]},
          "legend": null}
      }
    },
    {
      "data": {"values": [{"lab": "Tropical Mg/Ca records:", "t": 19.45, "v": 30.06}]},
      "mark": {"type": "text", "font": "Lato", "fontWeight": "bold", "fontSize": 8.8, "color": "#333333", "align": "left", "baseline": "middle"},
      "encoding": {
        "x": {"field": "t", "type": "quantitative", "scale": {"domain": [0, 30], "nice": false}, "axis": null},
        "y": {"field": "v", "type": "quantitative", "scale": {"domain": [15.67, 47.86], "nice": false, "zero": false}, "axis": null},
        "text": {"field": "lab"}
      }
    },
    {
      "data": {"values": [
        {"s": "mV", "lab": "Visser et al., 2003", "t": 19.45, "v": 29.55},
        {"s": "mWe", "lab": "Weldeab et al., 2006", "t": 19.45, "v": 29.03},
        {"s": "mS", "lab": "Steinke et al., 2008", "t": 19.45, "v": 28.53},
        {"s": "mL", "lab": "Lea et al., 2006", "t": 19.45, "v": 28.01},
        {"s": "mW", "lab": "Wang et al., 2013", "t": 19.45, "v": 27.5}
      ]},
      "mark": {"type": "text", "font": "Lato", "fontStyle": "italic", "fontSize": 9, "align": "left", "baseline": "middle"},
      "encoding": {
        "x": {"field": "t", "type": "quantitative", "scale": {"domain": [0, 30], "nice": false}, "axis": null},
        "y": {"field": "v", "type": "quantitative", "scale": {"domain": [15.67, 47.86], "nice": false, "zero": false}, "axis": null},
        "text": {"field": "lab"},
        "color": {"field": "s", "type": "nominal",
          "scale": {"domain": ["aK1", "aJ", "aK2", "aK3", "aW", "mV", "mWe", "mS", "mL", "mW"], "range": ["#F5923E", "#3D7CC9", "#EA2E27", "#2FA24A", "#111111", "#F5923E", "#3D7CC9", "#EA2E27", "#2FA24A", "#111111"]},
          "legend": null}
      }
    },
    {
      "data": {"values": [{"lab": "ice", "t": 33.75, "v": -39.05}]},
      "mark": {"type": "text", "font": "Liberation Sans", "fontSize": 7.5, "color": "#231f20", "angle": 90, "align": "center", "baseline": "middle"},
      "encoding": {
        "x": {"field": "t", "type": "quantitative", "scale": {"domain": [0, 30], "nice": false}, "axis": null},
        "y": {"field": "v", "type": "quantitative", "scale": {"domain": [-98.56, -31.66], "nice": false, "zero": false}, "axis": null},
        "text": {"field": "lab"}
      }
    },
    {
      "data": {"values": [{"lab": "ice", "t": -4.6, "v": -47.31}]},
      "mark": {"type": "text", "font": "Liberation Sans", "fontSize": 7.5, "color": "#231f20", "angle": 270, "align": "center", "baseline": "middle"},
      "encoding": {
        "x": {"field": "t", "type": "quantitative", "scale": {"domain": [0, 30], "nice": false}, "axis": null},
        "y": {"field": "v", "type": "quantitative", "scale": {"domain": [-53.33, -2.18], "nice": false, "zero": false}, "axis": null},
        "text": {"field": "lab"}
      }
    },
    {
      "data": {"values": [{"lab": "G. ruber", "t": 33.45, "v": 27.97}]},
      "mark": {"type": "text", "font": "Liberation Sans", "fontStyle": "italic", "fontSize": 12.5, "color": "#231f20", "angle": 90, "align": "right", "baseline": "middle"},
      "encoding": {
        "x": {"field": "t", "type": "quantitative", "scale": {"domain": [0, 30], "nice": false}, "axis": null},
        "y": {"field": "v", "type": "quantitative", "scale": {"domain": [15.67, 47.86], "nice": false, "zero": false}, "axis": null},
        "text": {"field": "lab"}
      }
    }
  ],
  "resolve": {"scale": {"y": "independent"}, "axis": {"x": "independent", "y": "independent"}}
}
